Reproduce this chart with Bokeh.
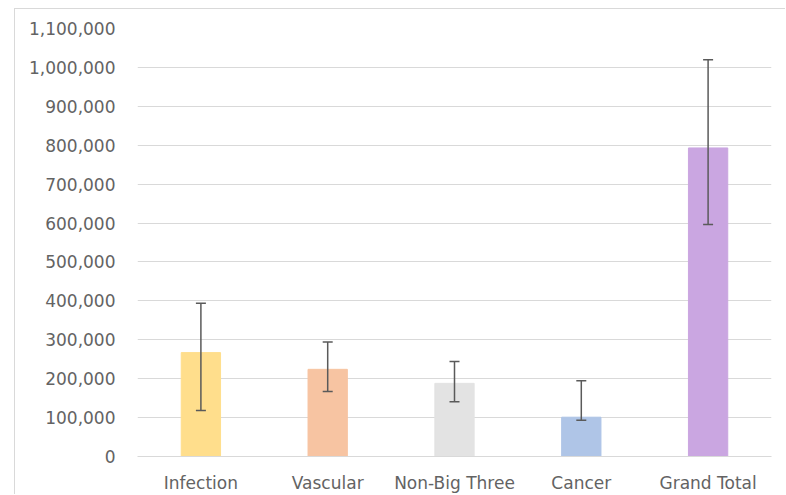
from bokeh.plotting import figure
from bokeh.models import ColumnDataSource, Whisker, TeeHead, NumeralTickFormatter, FactorRange, Range1d, FixedTicker
from bokeh.embed import file_html
from bokeh.resources import INLINE

categories = ["Infection", "Vascular", "Non-Big Three", "Cancer", "Grand Total"]
values = [267000, 224000, 188000, 101000, 793000]
lower = [118000, 167000, 141000, 93000, 596000]
upper = [394000, 294000, 244000, 195000, 1020000]
colors = ["#FFDE8C", "#F7C4A2", "#E3E3E3", "#AFC5E7", "#CAA6E1"]
y_ticks = [0, 100000, 200000, 300000, 400000, 500000, 600000, 700000, 800000, 900000, 1000000, 1100000]

src = ColumnDataSource(dict(x=categories, top=values, lower=lower, upper=upper, color=colors))

p = figure(width=771, height=486, x_range=FactorRange(*categories, range_padding=0),
           y_range=Range1d(0, 1100000), output_backend="svg", toolbar_location=None)
p.styles = {"margin-left": "14px", "margin-top": "8px",
            "border-left": "1px solid #d9d9d9", "border-top": "1px solid #d9d9d9"}
p.x_range.factor_padding = 0
p.min_border_left = 122
p.min_border_right = 15
p.min_border_top = 19
p.min_border_bottom = 30
p.outline_line_color = None
p.background_fill_color = "white"
p.border_fill_color = "white"

p.vbar(x="x", top="top", width=0.31, color="color", source=src)

w = Whisker(base="x", lower="lower", upper="upper", source=src,
            line_color="#5a5a5a", line_width=1.5, level="overlay",
            upper_head=TeeHead(size=10, line_color="#5a5a5a", line_width=1.5),
            lower_head=TeeHead(size=10, line_color="#5a5a5a", line_width=1.5))
p.add_layout(w)

p.xgrid.grid_line_color = None
p.ygrid.grid_line_color = "#d9d9d9"
p.ygrid.grid_line_width = 1

p.yaxis.ticker = FixedTicker(ticks=y_ticks)
p.yaxis.formatter = NumeralTickFormatter(format="0,0")
for ax in (p.xaxis[0], p.yaxis[0]):
    ax.major_tick_line_color = None
    ax.minor_tick_line_color = None
    ax.major_label_text_color = "#636363"
    ax.major_label_text_font = "DejaVu Sans"
    ax.major_label_text_font_size = "17px"
p.yaxis.axis_line_color = None
p.yaxis.major_label_standoff = 16
p.xaxis.axis_line_color = "#d9d9d9"
p.xaxis.major_label_standoff = 10

open("out.html", "w").write(file_html(p, INLINE))
